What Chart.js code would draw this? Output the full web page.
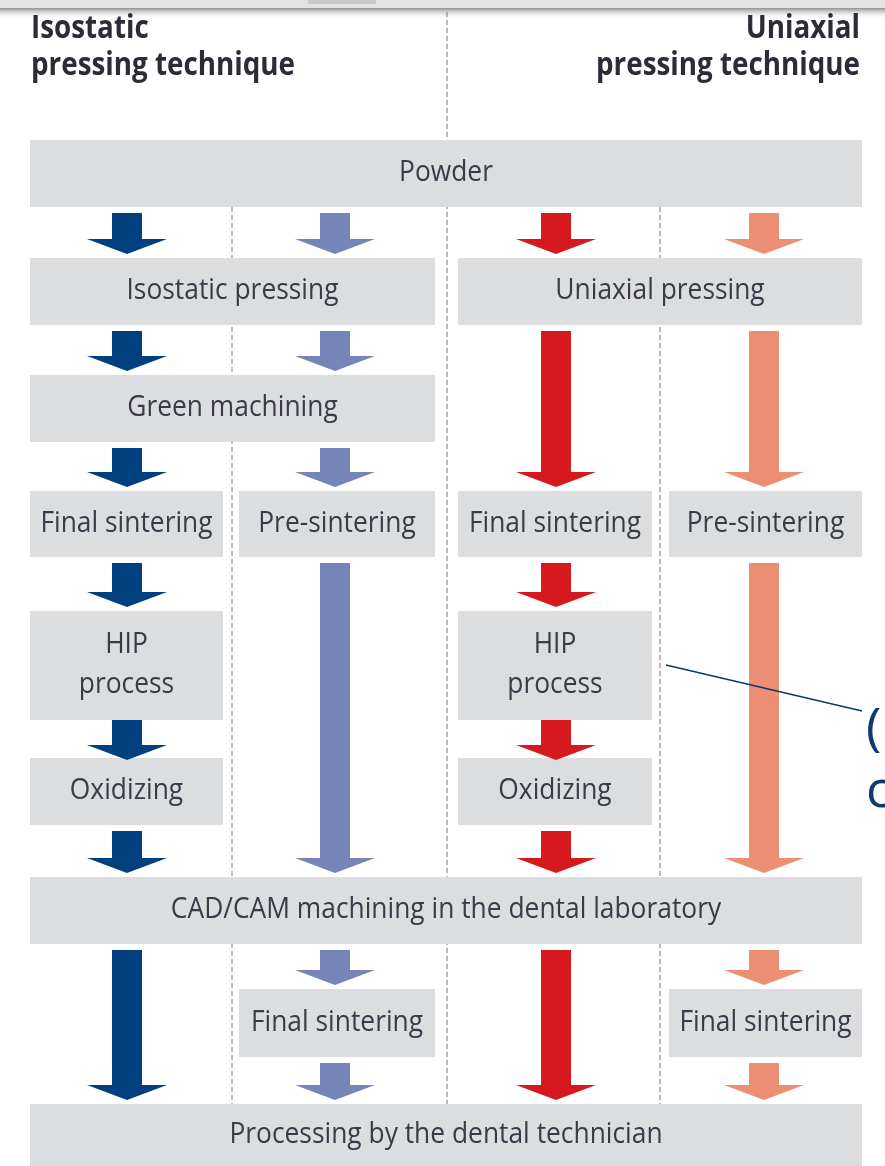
<!DOCTYPE html>
<html>
<head>
<meta charset="utf-8">
<script src="https://cdn.jsdelivr.net/npm/chart.js@4.4.1/dist/chart.umd.min.js"></script>
<style>
  html, body { margin: 0; padding: 0; background: #fff; }
  #wrap { width: 885px; height: 1166px; position: relative; }
</style>
</head>
<body>
<div id="wrap"><canvas id="flow"></canvas></div>
<script>
// flowchart data: column headers, steps and arrows
const headerLeft = ['Isostatic', 'pressing technique'];
const headerRight = ['Uniaxial', 'pressing technique'];

const stepLabels = [
  'Powder',
  'Isostatic pressing', 'Uniaxial pressing',
  'Green machining',
  'Final sintering', 'Pre-sintering', 'Final sintering', 'Pre-sintering',
  'HIP\nprocess', 'HIP\nprocess',
  'Oxidizing', 'Oxidizing',
  'CAD/CAM machining in the dental laboratory',
  'Final sintering', 'Final sintering',
  'Processing by the dental technician'
];
const stepRow       = [0, 1, 1, 2, 3, 3, 3, 3, 4, 4, 5, 5, 6, 7, 7, 8];
const stepFirstLane = [0, 0, 2, 0, 0, 1, 2, 3, 0, 2, 0, 2, 0, 1, 3, 0];
const stepLastLane  = [3, 1, 3, 1, 0, 1, 2, 3, 0, 2, 0, 2, 3, 1, 3, 3];

// arrows: lane, from row, to row
const arrowLane = [0, 0, 0, 0, 0, 0, 0,  1, 1, 1, 1, 1, 1,  2, 2, 2, 2, 2, 2,  3, 3, 3, 3, 3];
const arrowFrom = [0, 1, 2, 3, 4, 5, 6,  0, 1, 2, 3, 6, 7,  0, 1, 3, 4, 5, 6,  0, 1, 3, 6, 7];
const arrowTo   = [1, 2, 3, 4, 5, 6, 8,  1, 2, 3, 6, 7, 8,  1, 3, 4, 5, 6, 8,  1, 3, 6, 7, 8];

const calloutText = ['(', 'c'];

// layout (units of the x/y scales)
const W = 885, H = 1166;
const rowTop    = [140, 258, 375, 491, 611, 758, 877, 989, 1104];
const rowBottom = [207, 325, 442, 557, 720, 825, 944, 1057, 1180];
const laneLeft  = [30, 239, 458, 669];
const laneRight = [223, 435, 652, 862];
const laneCenter = [127, 335, 556, 764];
const laneColors = ['#00407f', '#7585b8', '#d6181f', '#eb8e73'];
const dividers = [232, 447, 660];

const textColor = '#3a3a48';
const boxColor = '#dcdddf';

const flowPlugin = {
  id: 'flow',
  afterDraw(chart) {
    const ctx = chart.ctx;
    const sx = v => chart.scales.x.getPixelForValue(v);
    const sy = v => chart.scales.y.getPixelForValue(v);

    // top page strip
    ctx.save();
    ctx.fillStyle = '#e3e3e3';
    ctx.fillRect(sx(0), sy(0), sx(W) - sx(0), sy(8) - sy(0));
    const g = ctx.createLinearGradient(0, sy(8), 0, sy(19));
    g.addColorStop(0, '#8f8f8f');
    g.addColorStop(1, 'rgba(255,255,255,0)');
    ctx.fillStyle = g;
    ctx.fillRect(sx(0), sy(8), sx(W) - sx(0), sy(19) - sy(8));
    ctx.fillStyle = '#c9c9c9';
    ctx.fillRect(sx(308), sy(0), sx(376) - sx(308), sy(4) - sy(0));

    // dashed lane dividers
    ctx.strokeStyle = '#8c8c8c';
    ctx.lineWidth = 1.2;
    ctx.setLineDash([5, 3]);
    dividers.forEach((x, i) => {
      const top = i === 1 ? 12 : rowBottom[0];
      ctx.beginPath();
      ctx.moveTo(sx(x), sy(top));
      ctx.lineTo(sx(x), sy(rowTop[8]));
      ctx.stroke();
    });
    ctx.setLineDash([]);

    // header titles
    ctx.fillStyle = '#2c2c36';
    ctx.font = 'bold 32px "Open Sans"';
    const hk = 264 / ctx.measureText('pressing technique').width;
    const drawText = (t, x, y, align, k) => {
      ctx.save();
      ctx.translate(x, y);
      ctx.scale(k, 1);
      ctx.textAlign = align;
      ctx.fillText(t, 0, 0);
      ctx.restore();
    };
    headerLeft.forEach((t, i) => drawText(t, sx(31), sy(38 + i * 37), 'left', hk));
    headerRight.forEach((t, i) => drawText(t, sx(860), sy(38 + i * 37), 'right', hk));

    // boxes
    ctx.font = '29px "Open Sans"';
    const bk = 212 / ctx.measureText('Isostatic pressing').width;
    stepLabels.forEach((label, i) => {
      const r = stepRow[i];
      const x0 = laneLeft[stepFirstLane[i]], x1 = laneRight[stepLastLane[i]];
      ctx.fillStyle = boxColor;
      ctx.fillRect(sx(x0), sy(rowTop[r]), sx(x1) - sx(x0), sy(rowBottom[r]) - sy(rowTop[r]));
      const lines = label.split('\n');
      const cy = (rowTop[r] + Math.min(rowBottom[r], H)) / 2;
      ctx.fillStyle = textColor;
      lines.forEach((t, j) => {
        const y = cy + 7.5 + (j - (lines.length - 1) / 2) * 40;
        drawText(t, sx((x0 + x1) / 2), sy(y), 'center', bk);
      });
    });

    // arrows (tight gaps get arrows that touch both boxes)
    arrowLane.forEach((lane, i) => {
      const cx = laneCenter[lane];
      const gap = rowTop[arrowFrom[i] + 1] - rowBottom[arrowFrom[i]];
      const tight = gap < 40;
      const yStart = rowBottom[arrowFrom[i]] + (tight ? 0 : 6);
      const yTip = rowTop[arrowTo[i]] + (tight ? 2 : -4);
      const yHead = yTip - 15;
      ctx.fillStyle = laneColors[lane];
      ctx.beginPath();
      ctx.moveTo(sx(cx - 15), sy(yStart));
      ctx.lineTo(sx(cx + 15), sy(yStart));
      ctx.lineTo(sx(cx + 15), sy(yHead));
      ctx.lineTo(sx(cx + 40), sy(yHead));
      ctx.lineTo(sx(cx), sy(yTip));
      ctx.lineTo(sx(cx - 40), sy(yHead));
      ctx.lineTo(sx(cx - 15), sy(yHead));
      ctx.closePath();
      ctx.fill();
    });

    // callout
    ctx.strokeStyle = '#0b3a6e';
    ctx.lineWidth = 1.6;
    ctx.beginPath();
    ctx.moveTo(sx(666), sy(665));
    ctx.lineTo(sx(862), sy(711));
    ctx.stroke();
    ctx.fillStyle = '#0b3a6e';
    ctx.font = '52px "Open Sans"';
    ctx.textAlign = 'left';
    calloutText.forEach((t, i) => ctx.fillText(t, sx(866), sy(745 + i * 62)));
    ctx.restore();
  }
};

new Chart(document.getElementById('flow'), {
  type: 'scatter',
  data: { datasets: [] },
  options: {
    responsive: true,
    maintainAspectRatio: false,
    animation: false,
    layout: { padding: 0 },
    plugins: { legend: { display: false }, tooltip: { enabled: false } },
    scales: {
      x: { type: 'linear', min: 0, max: W, display: false },
      y: { type: 'linear', min: 0, max: H, reverse: true, display: false }
    }
  },
  plugins: [flowPlugin]
});
</script>
</body>
</html>
